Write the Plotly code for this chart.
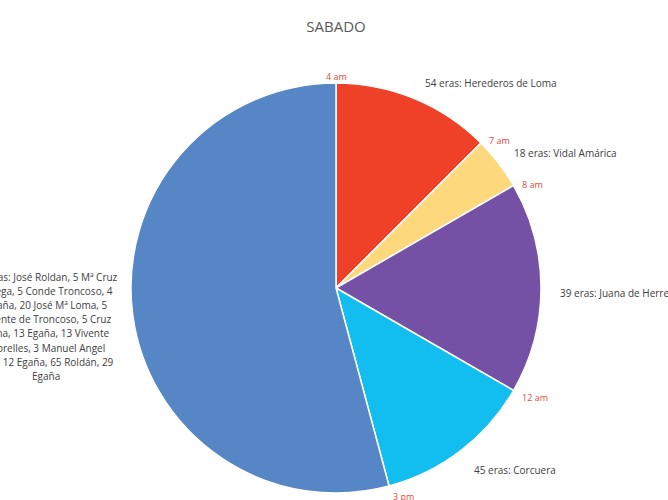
import math
import plotly.graph_objects as go

# Saturday schedule: hours each owner holds the water, starting at 4 am
owners = [
    "54 eras: Herederos de Loma",
    "18 eras: Vidal Amárica",
    "39 eras: Juana de Herrera",
    "45 eras: Corcuera",
    "12 eras: José Roldan, 5 Mª Cruz<br>Ortega, 5 Conde Troncoso, 4<br>Egaña, 20 José Mª Loma, 5<br>Vicente de Troncoso, 5 Cruz<br>Loma, 13 Egaña, 13 Vivente<br>Morelles, 3 Manuel Angel<br>Ruiz, 12 Egaña, 65 Roldán, 29<br>Egaña",
]
hours = [3, 1, 4, 3, 13]
start_times = ["4 am", "7 am", "8 am", "12 am", "3 pm"]
colors = ["#EF4127", "#FDD87C", "#7551A6", "#12BDEF", "#5686C6"]

W, H = 668, 500
cx, cy, R = 336, 288, 205

# owner label anchors in pixels: (x, y, xanchor)
label_pos = [
    (491, 83, "center"),
    (565, 153, "center"),
    (558, 293, "left"),
    (515, 470, "center"),
    (46, 277, "center"),
]

def px(x):
    return x / W

def py(y):
    return 1 - y / H

fig = go.Figure(go.Pie(
    values=hours,
    labels=[o.split("<br>")[0] for o in owners],
    marker=dict(colors=colors, line=dict(color="white", width=1.5)),
    sort=False,
    direction="clockwise",
    rotation=0,
    textinfo="none",
    hoverinfo="label+value",
    showlegend=False,
    domain=dict(x=[px(cx - R), px(cx + R)], y=[py(cy + R), py(cy - R)]),
))

annotations = []

# start time at each slice boundary
total = sum(hours)
acc = 0
for h, t in zip(hours, start_times):
    ang = 2 * math.pi * acc / total
    acc += h
    s, c = math.sin(ang), math.cos(ang)
    if abs(s) < 0.1:
        d = R + 7
        x, y = cx + s * d, cy - c * d
        xa, ya = "center", "middle"
    else:
        d = R + 8
        x, y = cx + s * d, cy - c * d + 3
        xa, ya = ("left" if s > 0 else "right"), "middle"
    annotations.append(dict(
        x=px(x), y=py(y), xref="paper", yref="paper",
        text=t, showarrow=False, xanchor=xa, yanchor=ya,
        font=dict(family="Open Sans", size=9, color="#E5493A"),
    ))

# owner descriptions, one line at a time
for text, (x, y, xa) in zip(owners, label_pos):
    for i, line in enumerate(text.split("<br>")):
        annotations.append(dict(
            x=px(x), y=py(y + i * 14.1), xref="paper", yref="paper",
            text=line, showarrow=False, xanchor=xa, yanchor="middle",
            font=dict(family="Open Sans", size=10, color="#404040"),
        ))

fig.update_layout(
    width=W, height=H,
    margin=dict(l=0, r=0, t=0, b=0),
    paper_bgcolor="white",
    plot_bgcolor="white",
    title=dict(text="SABADO", x=px(336), y=py(27), xanchor="center", yanchor="middle",
               font=dict(family="Open Sans", size=15, color="#595959")),
    annotations=annotations,
)

fig.write_html("out.html")
